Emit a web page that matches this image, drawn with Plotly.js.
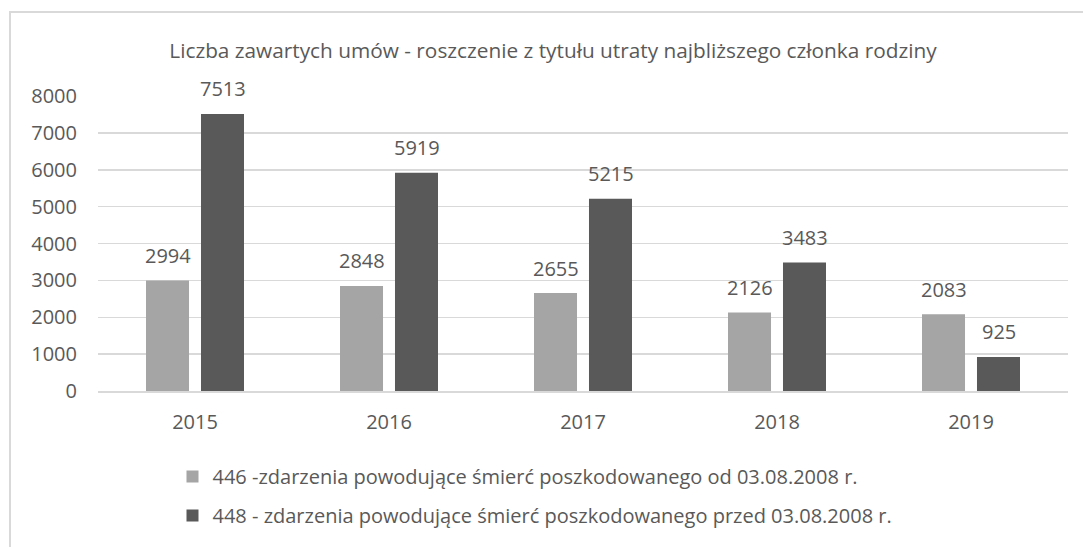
<!DOCTYPE html>
<html>
<head>
<meta charset="utf-8">
<script src="https://cdn.plot.ly/plotly-3.0.1.min.js"></script>
<style>
  html, body { margin: 0; padding: 0; background: #ffffff; }
  #wrap { position: relative; width: 1083px; height: 547px; overflow: hidden; }
  #frame { position: absolute; left: 9px; top: 11px; width: 1100px; height: 600px; border: 2px solid #d9d9d9; box-sizing: border-box; pointer-events: none; }
  #chart { position: absolute; left: 0; top: 0; width: 1083px; height: 547px; }
</style>
</head>
<body>
<div id="wrap">
  <div id="chart"></div>
  <div id="frame"></div>
</div>
<script>
const years = ['2015', '2016', '2017', '2018', '2019'];
const series446 = [2994, 2848, 2655, 2126, 2083];
const series448 = [7513, 5919, 5215, 3483, 925];
const name446 = '446 -zdarzenia powodujące śmierć poszkodowanego od 03.08.2008 r.';
const name448 = '448 - zdarzenia powodujące śmierć poszkodowanego przed 03.08.2008 r.';
const titleText = 'Liczba zawartych umów - roszczenie z tytułu utraty najbliższego członka rodziny';
const yTicks = [0, 1000, 2000, 3000, 4000, 5000, 6000, 7000, 8000];

const FONT = 'Open Sans, sans-serif';
const TXT = '#595959';
const FS = 20;

const traces = [
  {
    type: 'bar', x: years, y: series446, name: name446,
    marker: { color: '#a5a5a5' }, legendgroup: 'a'
  },
  {
    type: 'bar', x: years, y: series448, name: name448,
    marker: { color: '#595959' }, legendgroup: 'b'
  }
];

const annotations = [];
years.forEach((yr, i) => {
  annotations.push({ x: i, y: series446[i], text: String(series446[i]), showarrow: false,
    xref: 'x', yref: 'y', xshift: -27.5, yshift: 25, font: { family: FONT, size: FS, color: TXT } });
  annotations.push({ x: i, y: series448[i], text: String(series448[i]), showarrow: false,
    xref: 'x', yref: 'y', xshift: 27.5, yshift: 25, font: { family: FONT, size: FS, color: TXT } });
});

const layout = {
  width: 1083, height: 547,
  margin: { l: 98, r: 15, t: 96, b: 154 },
  paper_bgcolor: 'rgba(0,0,0,0)', plot_bgcolor: 'rgba(0,0,0,0)',
  font: { family: FONT, size: FS, color: TXT },
  title: { text: titleText, x: 0.5106, xanchor: 'center', xref: 'container', y: 0.908, yanchor: 'middle', yref: 'container',
    font: { family: FONT, size: 20.8, color: TXT } },
  barmode: 'group', bargap: 0.433, bargroupgap: 0.218,
  xaxis: { type: 'category', range: [-0.5, 4.5], autorange: false, showgrid: false, showline: true, linecolor: '#d9d9d9', linewidth: 1.5,
    ticks: '', tickfont: { family: FONT, size: FS, color: TXT }, ticklabelstandoff: 12, fixedrange: true },
  yaxis: { range: [0, 8000], autorange: false, tickvals: yTicks, ticktext: yTicks.map(String), showgrid: true, gridcolor: '#d9d9d9', gridwidth: 1.5,
    zeroline: false, showline: false, ticks: '', ticklabelstandoff: 20,
    tickfont: { family: FONT, size: FS, color: TXT }, fixedrange: true },
  showlegend: true,
  legend: { orientation: 'v', x: 0.0768, xanchor: 'left', y: -0.2236, yanchor: 'top', traceorder: 'grouped',
    tracegroupgap: 10, font: { family: FONT, size: FS, color: TXT }, bgcolor: 'rgba(0,0,0,0)' },
  annotations: annotations
};

Plotly.newPlot('chart', traces, layout, { displayModeBar: false, staticPlot: true });
</script>
</body>
</html>
